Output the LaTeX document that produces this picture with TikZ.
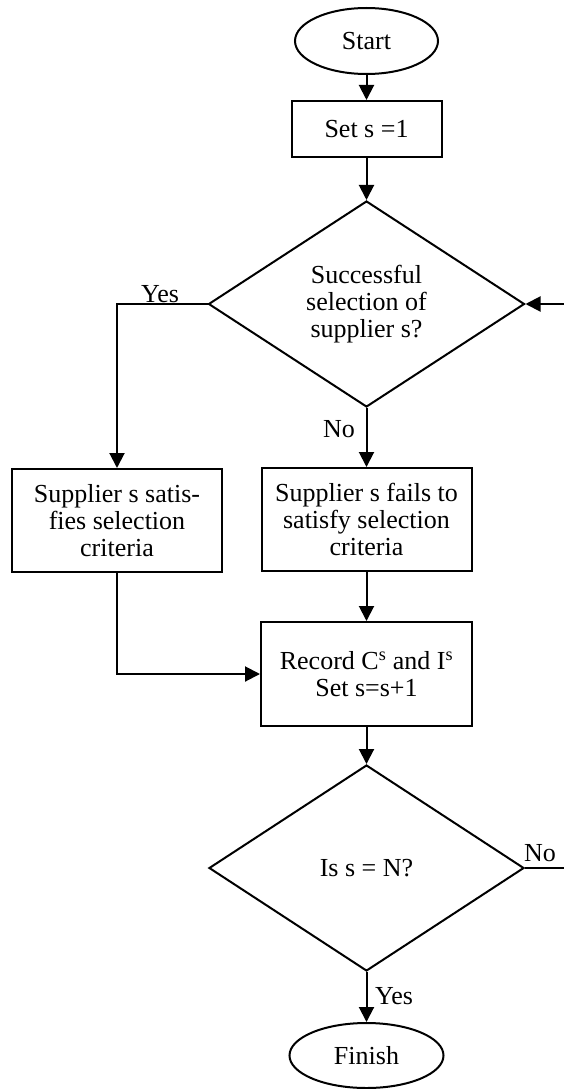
\documentclass[tikz,border=0pt]{standalone}
\usepackage{fontspec}
\setmainfont{Liberation Serif}
\usetikzlibrary{shapes.geometric,arrows.meta}

\tikzset{
  txt/.style={font=\fontsize{26}{27}\selectfont, align=center},
  terminal/.style={txt, draw, ellipse, line width=2pt, inner sep=0pt},
  procbox/.style={txt, draw, rectangle, line width=2pt, inner sep=0pt},
  decision/.style={txt, draw, diamond, line width=2pt, inner sep=0pt, aspect=1.53},
  flow/.style={line width=2pt, -{Triangle[length=15pt,width=15pt]}},
  plain/.style={line width=2pt}
}

\begin{document}
\begin{tikzpicture}[x=1pt,y=-1pt]
\useasboundingbox (0,0) rectangle (564,1089);

%% full flow chart
\node [terminal, minimum width=143pt, minimum height=66pt] (start) at (366.5,41) {Start};
\node [procbox, minimum width=150pt, minimum height=56pt] (setone) at (366.5,129) {Set s =1};
\node [decision, minimum width=316pt, minimum height=206pt] (select) at (366.5,304) {Successful\\selection of\\supplier s?};
\node [procbox, minimum width=210pt, minimum height=103pt] (satisfy) at (117,520.5) {Supplier s satis-\\fies selection\\criteria};
\node [procbox, minimum width=210pt, minimum height=103pt] (fail) at (366.5,519.5) {Supplier s fails to\\satisfy selection\\criteria};
\node [procbox, minimum width=211pt, minimum height=104pt] (record) at (366.5,674) {Record C\textsuperscript{s} and I\textsuperscript{s}\\Set s=s+1};
\node [decision, minimum width=315pt, minimum height=206pt] (last) at (366.5,868) {Is s = N?};
\node [terminal, minimum width=154pt, minimum height=65pt] (finish) at (366.5,1055.5) {Finish};
\coordinate (loopin) at (564,304); % loop back from right edge
\coordinate (loopout) at (564,868); % 'No' leaves at right edge

%% connectors
\draw [flow] (start) -- (setone); % start to set s
\draw [flow] (setone) -- (select); % set s to first decision
\draw [flow] (select.west) -| (satisfy.north); % Yes branch
\draw [flow] (select.south) -- (fail.north); % No branch
\draw [flow] (fail.south) -- (record.north); % fail to record
\draw [flow] (satisfy.south) |- (record.west); % satisfy to record
\draw [flow] (record.south) -- (last.north); % record to second decision
\draw [flow] (last.south) -- (finish.north); % Yes to finish
\draw [plain] (last.east) -- (loopout); % No to the right
\draw [flow] (loopin) -- (select.east); % back into first decision

%% labeling
\node [txt] (yesone) at (160,294) {Yes};
\node [txt] (noone) at (339,429) {No};
\node [txt] (notwo) at (540,853) {No};
\node [txt] (yestwo) at (394,996) {Yes};

\end{tikzpicture}
\end{document}
